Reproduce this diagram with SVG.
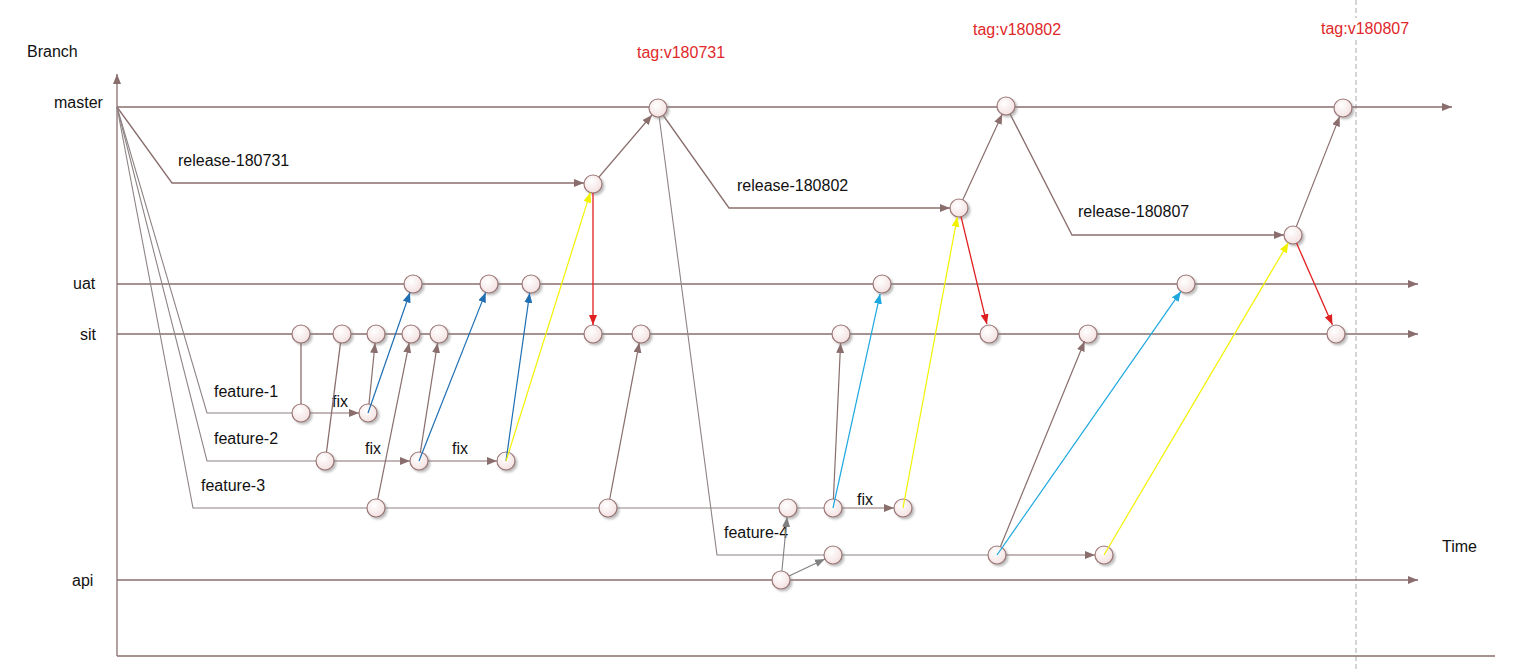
<svg xmlns="http://www.w3.org/2000/svg" width="1525" height="669" viewBox="0 0 1525 669">
<style>
text{font-family:"Liberation Sans",Arial,sans-serif;font-size:16px;fill:#111}
.tag{fill:#e0282a}
.br{fill:none;stroke:#8a6e6e;stroke-width:1.3}
.ft{fill:none;stroke:#8e8484;stroke-width:1.1}
.gr{fill:none;stroke:#858585;stroke-width:1.1}
.n{fill:url(#ng);stroke:#9c7777;stroke-width:1.2;filter:url(#sh)}
.a-br{fill:none;stroke:#8a6e6e;stroke-width:1.2;marker-end:url(#mbr)}
.a-gr{fill:none;stroke:#808080;stroke-width:1.1;marker-end:url(#mgr)}
.a-bl{fill:none;stroke:#1f6fb2;stroke-width:1.2;marker-end:url(#mbl)}
.a-cy{fill:none;stroke:#1ea8e0;stroke-width:1.2;marker-end:url(#mcy)}
.a-ye{fill:none;stroke:#f2f200;stroke-width:1.2;marker-end:url(#mye)}
.a-rd{fill:none;stroke:#e02020;stroke-width:1.3;marker-end:url(#mrd)}
</style>
<defs>
<radialGradient id="ng" cx="0.4" cy="0.35" r="0.7">
<stop offset="0" stop-color="#ffffff"/>
<stop offset="1" stop-color="#f3dfdf"/>
</radialGradient>
<filter id="sh" x="-50%" y="-50%" width="200%" height="200%">
<feDropShadow dx="2" dy="2" stdDeviation="1.2" flood-color="#888" flood-opacity="0.55"/>
</filter>
<marker id="mbr" viewBox="0 0 10 8" refX="10" refY="4" markerWidth="10" markerHeight="8" markerUnits="userSpaceOnUse" orient="auto"><path d="M0,0 L10,4 L0,8 z" fill="#8a6e6e"/></marker>
<marker id="mgr" viewBox="0 0 10 8" refX="10" refY="4" markerWidth="10" markerHeight="8" markerUnits="userSpaceOnUse" orient="auto"><path d="M0,0 L10,4 L0,8 z" fill="#808080"/></marker>
<marker id="mbl" viewBox="0 0 10 8" refX="10" refY="4" markerWidth="10" markerHeight="8" markerUnits="userSpaceOnUse" orient="auto"><path d="M0,0 L10,4 L0,8 z" fill="#1f6fb2"/></marker>
<marker id="mcy" viewBox="0 0 10 8" refX="10" refY="4" markerWidth="10" markerHeight="8" markerUnits="userSpaceOnUse" orient="auto"><path d="M0,0 L10,4 L0,8 z" fill="#1ea8e0"/></marker>
<marker id="mye" viewBox="0 0 10 8" refX="10" refY="4" markerWidth="10" markerHeight="8" markerUnits="userSpaceOnUse" orient="auto"><path d="M0,0 L10,4 L0,8 z" fill="#f2f200"/></marker>
<marker id="mrd" viewBox="0 0 10 8" refX="10" refY="4" markerWidth="10" markerHeight="8" markerUnits="userSpaceOnUse" orient="auto"><path d="M0,0 L10,4 L0,8 z" fill="#e02020"/></marker>
</defs>
<rect width="1525" height="669" fill="#ffffff"/>

<!-- dashed time marker -->
<line x1="1356" y1="0" x2="1356" y2="669" stroke="#aaaaaa" stroke-width="1" stroke-dasharray="5,3"/>

<!-- branch lines -->
<g id="branches">
<path class="br" d="M117,656 V74" marker-end="url(#mbr)"/>
<path class="br" d="M117,656 H1495"/>
<path class="br" d="M117,107 H1452" marker-end="url(#mbr)"/>
<path class="br" d="M117,284 H1418" marker-end="url(#mbr)"/>
<path class="br" d="M117,334 H1418" marker-end="url(#mbr)"/>
<path class="br" d="M117,580 H1418" marker-end="url(#mbr)"/>
<path class="br" d="M117,107 L172,183 H584" marker-end="url(#mbr)"/>
<path class="br" d="M658,108 L729,208 H950" marker-end="url(#mbr)"/>
<path class="br" d="M1006,106 L1072,235 H1284" marker-end="url(#mbr)"/>
<path class="ft" d="M117,107 L207,413 H301"/>
<path class="ft" d="M117,107 L207,461 H325"/>
<path class="ft" d="M117,107 L193,508 H833"/>
<path class="ft" d="M658,108 L717,555 H997"/>
</g>

<!-- labels -->
<g id="labels">
<text x="27" y="57">Branch</text>
<text x="54" y="108">master</text>
<text x="73" y="289">uat</text>
<text x="80" y="340">sit</text>
<text x="72" y="586">api</text>
<text x="1442" y="552">Time</text>
<text x="178" y="166">release-180731</text>
<text x="737" y="191">release-180802</text>
<text x="1078" y="217">release-180807</text>
<text class="tag" x="637" y="58">tag:v180731</text>
<text class="tag" x="973" y="35">tag:v180802</text>
<rect x="1319" y="18" width="90" height="20" fill="#ffffff"/>
<text class="tag" x="1321" y="34">tag:v180807</text>
<text x="214" y="397">feature-1</text>
<text x="214" y="444">feature-2</text>
<text x="201" y="491">feature-3</text>
<text x="724" y="538">feature-4</text>
<text x="332" y="407">fix</text>
<text x="365" y="454">fix</text>
<text x="452" y="454">fix</text>
<rect x="855" y="500" width="19" height="14" fill="#ffffff"/>
<text x="857" y="505">fix</text>
</g>

<!-- nodes -->
<g id="m1"><circle class="n" cx="658" cy="108" r="9"/></g>
<g id="m2"><circle class="n" cx="1006" cy="106" r="9"/></g>
<g id="m3"><circle class="n" cx="1343" cy="108" r="9"/></g>
<g id="r1"><circle class="n" cx="593" cy="184" r="9"/></g>
<g id="r2"><circle class="n" cx="959" cy="208" r="9"/></g>
<g id="r3"><circle class="n" cx="1293" cy="235" r="9"/></g>
<g id="u1"><circle class="n" cx="413" cy="284" r="9"/></g>
<g id="u2"><circle class="n" cx="489" cy="284" r="9"/></g>
<g id="u3"><circle class="n" cx="531" cy="284" r="9"/></g>
<g id="u4"><circle class="n" cx="882" cy="284" r="9"/></g>
<g id="u5"><circle class="n" cx="1186" cy="284" r="9"/></g>
<g id="s1"><circle class="n" cx="301" cy="334" r="9"/></g>
<g id="s2"><circle class="n" cx="342" cy="334" r="9"/></g>
<g id="s3"><circle class="n" cx="376" cy="334" r="9"/></g>
<g id="s4"><circle class="n" cx="411" cy="334" r="9"/></g>
<g id="s5"><circle class="n" cx="439" cy="334" r="9"/></g>
<g id="s6"><circle class="n" cx="593" cy="334" r="9"/></g>
<g id="s7"><circle class="n" cx="641" cy="334" r="9"/></g>
<g id="s8"><circle class="n" cx="841" cy="334" r="9"/></g>
<g id="s9"><circle class="n" cx="989" cy="334" r="9"/></g>
<g id="s10"><circle class="n" cx="1088" cy="334" r="9"/></g>
<g id="s11"><circle class="n" cx="1336" cy="334" r="9"/></g>
<g id="f1a"><circle class="n" cx="301" cy="413" r="9"/></g>
<g id="f1b"><circle class="n" cx="368" cy="413" r="9"/></g>
<g id="f2a"><circle class="n" cx="325" cy="461" r="9"/></g>
<g id="f2b"><circle class="n" cx="419" cy="461" r="9"/></g>
<g id="f2c"><circle class="n" cx="506" cy="461" r="9"/></g>
<g id="f3a"><circle class="n" cx="376" cy="508" r="9"/></g>
<g id="f3b"><circle class="n" cx="608" cy="508" r="9"/></g>
<g id="f3c"><circle class="n" cx="788" cy="508" r="9"/></g>
<g id="f3d"><circle class="n" cx="833" cy="508" r="9"/></g>
<g id="f3e"><circle class="n" cx="903" cy="508" r="9"/></g>
<g id="f4a"><circle class="n" cx="833" cy="555" r="9"/></g>
<g id="f4b"><circle class="n" cx="997" cy="555" r="9"/></g>
<g id="f4c"><circle class="n" cx="1104" cy="555" r="9"/></g>
<g id="a1"><circle class="n" cx="781" cy="580" r="9"/></g>

<!-- connectors -->
<g id="connectors">
<path class="a-br" d="M599,177 L652,115"/>
<path class="a-br" d="M962.8,199.8 L1002.2,114.2"/>
<path class="a-br" d="M1296.3,226.6 L1339.7,116.4"/>
<path class="a-br" d="M310,413 H359"/>
<path class="a-br" d="M334,461 H410"/>
<path class="a-br" d="M428,461 H497"/>
<path class="a-br" d="M842,508 H894"/>
<path class="a-br" d="M1006,555 H1095"/>
<path class="br" d="M301,404 V343"/>
<path class="br" d="M326.5,452 L340.5,343"/>
<path class="a-br" d="M369,404 L375.1,343"/>
<path class="a-br" d="M377.8,499.2 L409.2,342.8"/>
<path class="a-br" d="M420.4,452.1 L437.6,342.9"/>
<path class="a-br" d="M609.7,499.2 L639.3,342.8"/>
<path class="a-br" d="M833.4,499 L840.6,343"/>
<path class="a-br" d="M1000.4,546.7 L1084.6,341.3"/>
<path class="a-gr" d="M781.9,571 L787.1,517"/>
<path class="a-gr" d="M789.1,576.1 L824.9,558.9"/>
<path class="a-bl" d="M368,413 L410,292.5"/>
<path class="a-bl" d="M419,461 L485.7,292.4"/>
<path class="a-bl" d="M506,461 L529.7,292.9"/>
<path class="a-cy" d="M833,508 L880.1,293.8"/>
<path class="a-cy" d="M997,555 L1180.9,291.4"/>
<path class="a-ye" d="M506,461 L590.3,192.6"/>
<path class="a-ye" d="M903,508 L957.3,216.8"/>
<path class="a-ye" d="M1104,555 L1288.4,242.7"/>
<path class="a-rd" d="M593,193 V325"/>
<path class="a-rd" d="M961.1,216.8 L986.9,324.2"/>
<path class="a-rd" d="M1296.6,243.2 L1332.4,324.8"/>
</g>
</svg>
